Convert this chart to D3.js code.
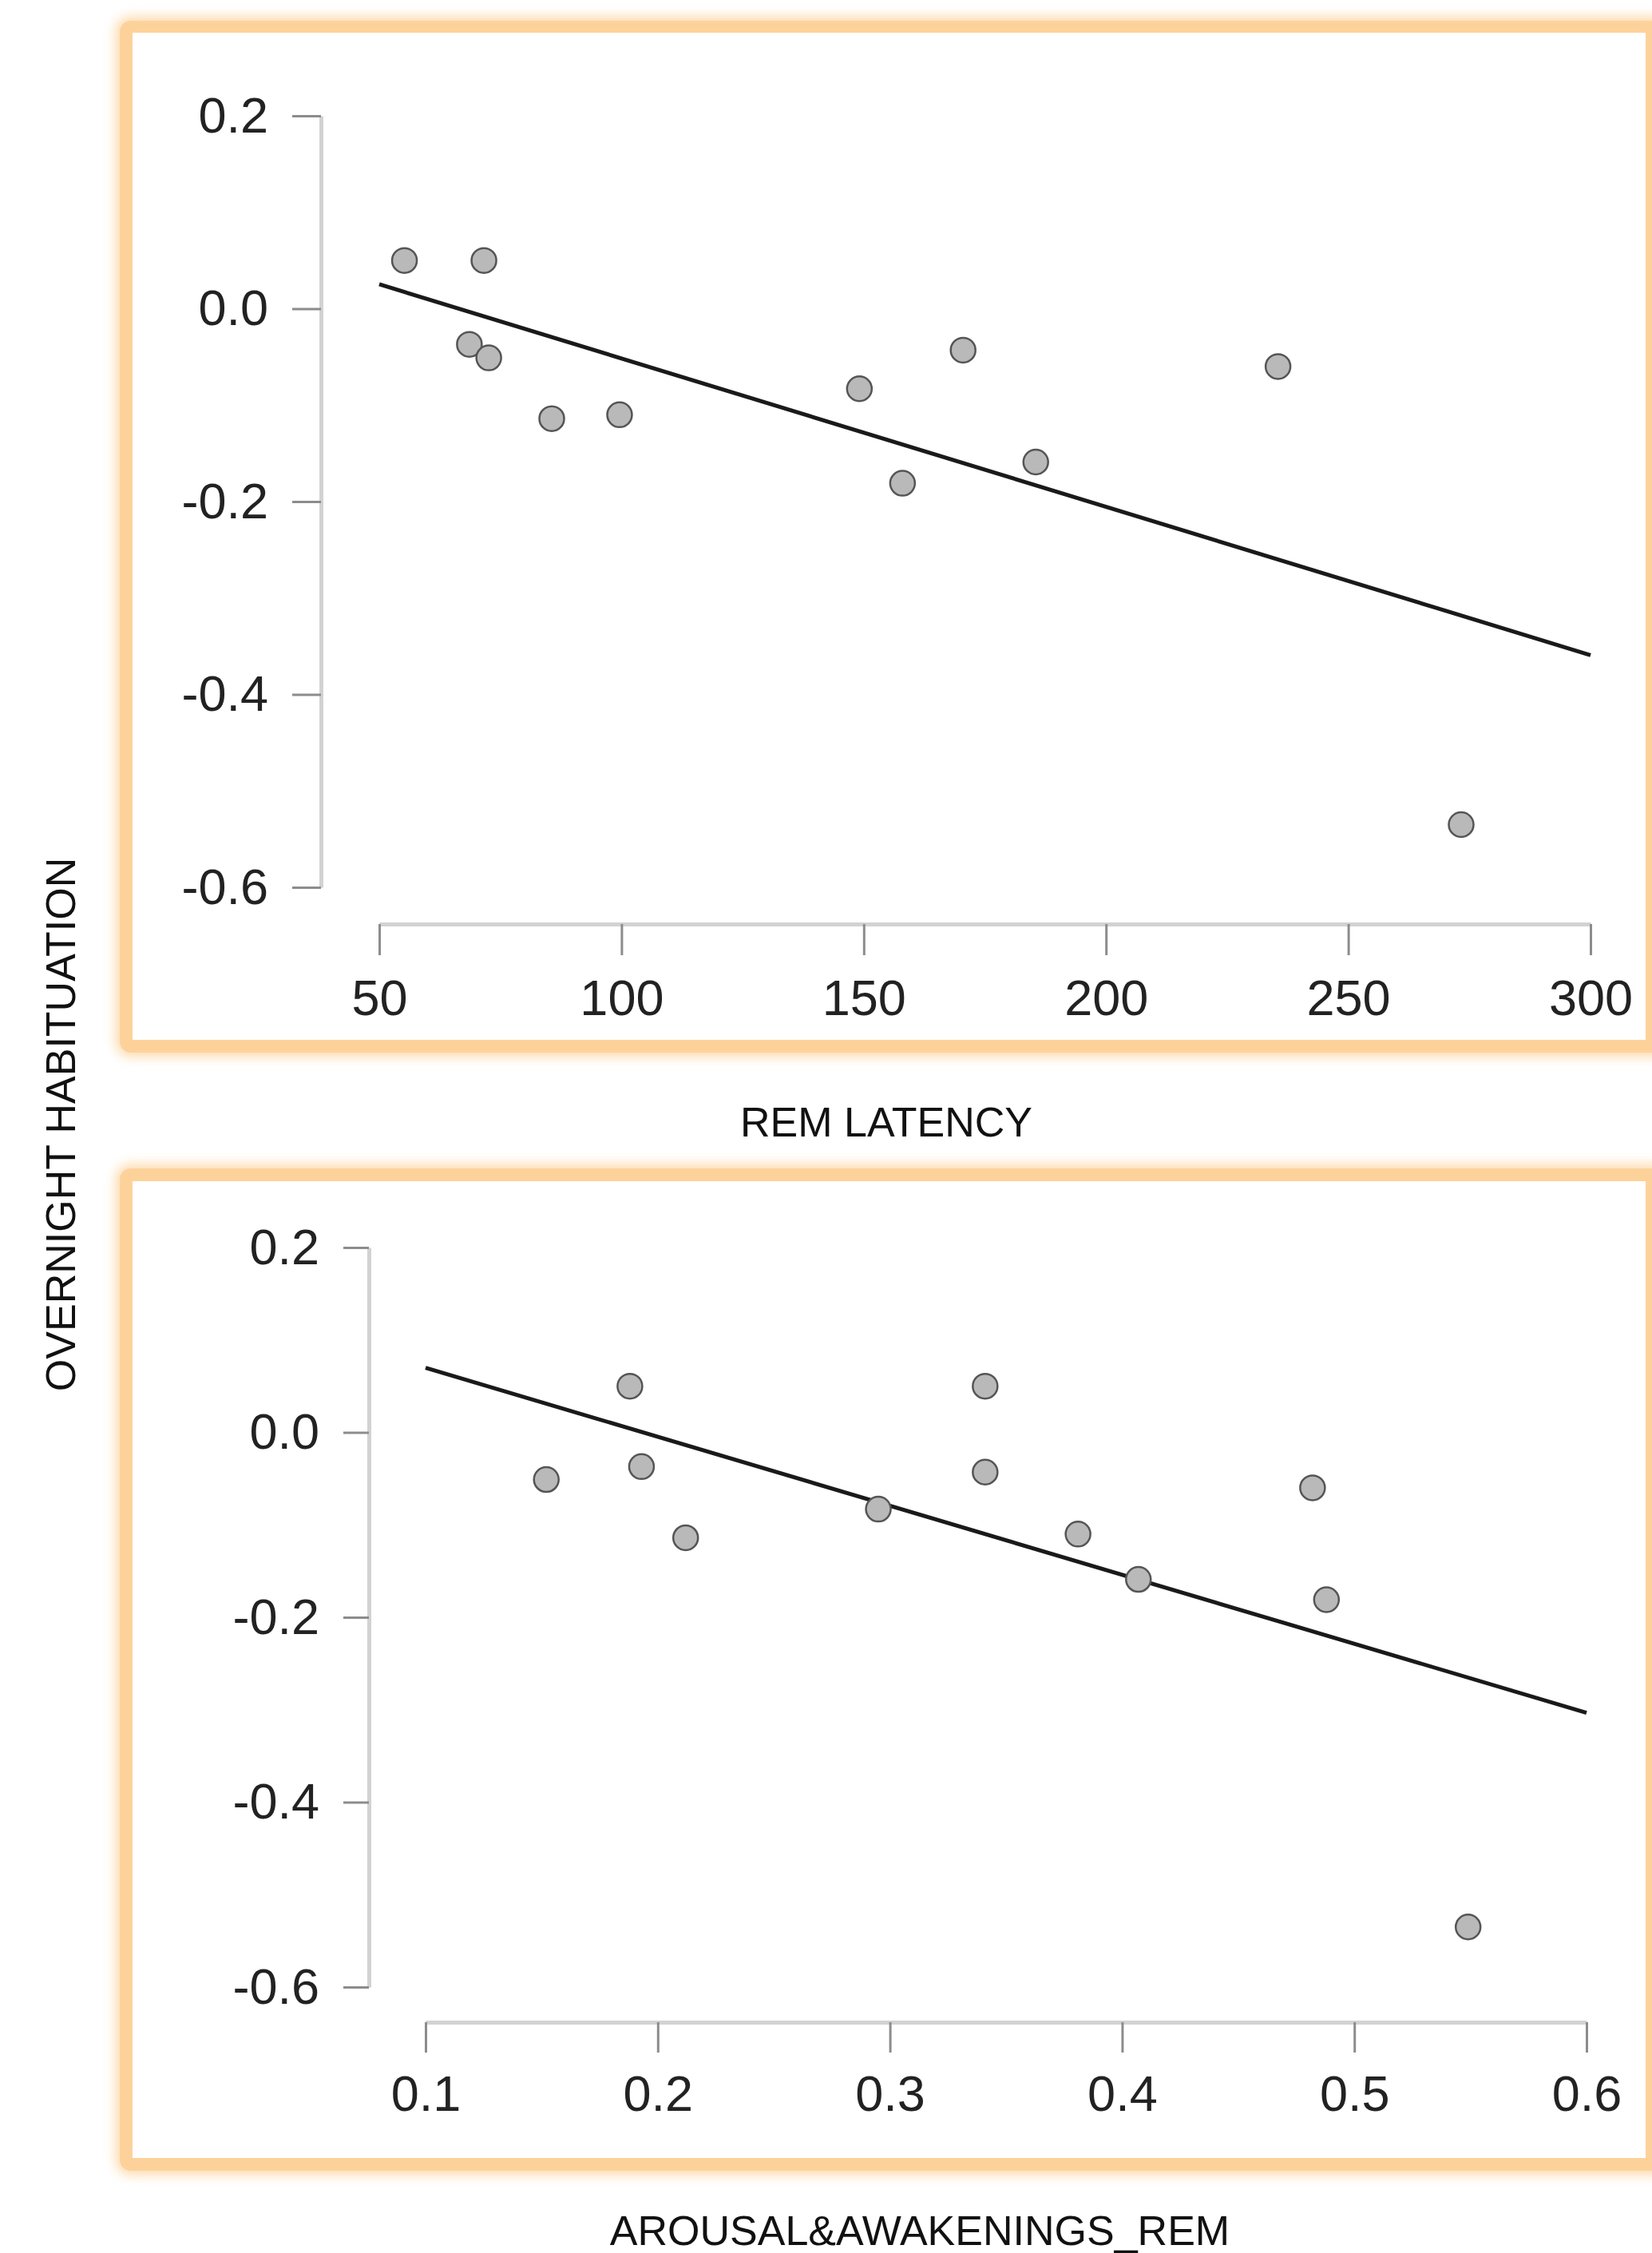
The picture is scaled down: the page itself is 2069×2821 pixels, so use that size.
<!DOCTYPE html>
<html>
<head>
<meta charset="utf-8">
<script src="https://cdn.jsdelivr.net/npm/d3@7"></script>
<style>
body { margin: 0; background: #fff; }
text { font-family: "Liberation Sans", Arial, Helvetica, sans-serif; }
</style>
</head>
<body>
<div id="chart"></div>
<script>
/* ------------------------------------------------------------------
 OVERNIGHT HABITUATION vs REM LATENCY / AROUSAL&AWAKENINGS_REM
 -------------------------------------------------------------------- */

var w = 2069,
	h = 2821;

// one value per subject, same order in every array
var habituation = [0.050, 0.050, -0.037, -0.051, -0.114, -0.110, -0.083, -0.181, -0.043, -0.159, -0.060, -0.535];
var remLatency  = [55.2, 71.6, 68.6, 72.6, 85.6, 99.6, 149.1, 158.0, 170.5, 185.5, 235.5, 273.3];
var arousalRem  = [0.188, 0.341, 0.193, 0.152, 0.212, 0.381, 0.295, 0.488, 0.341, 0.407, 0.482, 0.549];

var yTicks = [0.2, 0.0, -0.2, -0.4, -0.6];
var remTicks = [50, 100, 150, 200, 250, 300];
var arousalTicks = [0.1, 0.2, 0.3, 0.4, 0.5, 0.6];

var svg = d3.select("#chart")
	.append("svg")
	.attr("width", w)
	.attr("height", h);

svg.append("rect")
	.attr("width", w)
	.attr("height", h)
	.attr("fill", "#fff");

var defs = svg.append("defs");
defs.append("filter")
	.attr("id", "glow")
	.attr("x", "-5%").attr("y", "-5%")
	.attr("width", "110%").attr("height", "110%")
	.append("feGaussianBlur")
	.attr("stdDeviation", 7);

// least squares fit
function fit(xs, ys) {
	var mx = d3.mean(xs), my = d3.mean(ys);
	var sxy = d3.sum(xs, function(d, i){ return (d - mx) * (ys[i] - my); });
	var sxx = d3.sum(xs, function(d){ return (d - mx) * (d - mx); });
	var b = sxy / sxx;
	return function(x){ return my + b * (x - mx); };
}

function panel(p) {
	var g = svg.append("g");

	// orange frame with soft edge
	g.append("rect")
		.attr("x", p.outer[0] - 6).attr("y", p.outer[1] - 6)
		.attr("width", p.outer[2] - p.outer[0] + 12)
		.attr("height", p.outer[3] - p.outer[1] + 12)
		.attr("rx", 20)
		.attr("fill", "#fdd29a")
		.attr("opacity", 0.75)
		.attr("filter", "url(#glow)");
	g.append("rect")
		.attr("x", p.outer[0]).attr("y", p.outer[1])
		.attr("width", p.outer[2] - p.outer[0])
		.attr("height", p.outer[3] - p.outer[1])
		.attr("rx", 14)
		.attr("fill", "#fdd29a");
	g.append("rect")
		.attr("x", p.inner[0]).attr("y", p.inner[1])
		.attr("width", p.inner[2] - p.inner[0])
		.attr("height", p.inner[3] - p.inner[1])
		.attr("fill", "#fff");

	var x = d3.scaleLinear().domain(p.xDomain).range(p.xRange);
	var y = d3.scaleLinear().domain([-0.6, 0.2]).range(p.yRange);

	var yAxis = g.append("g")
		.attr("transform", "translate(" + p.yAxisX + ",0)")
		.call(d3.axisLeft(y)
			.tickValues(yTicks)
			.tickSize(p.yTick)
			.tickSizeOuter(0)
			.tickPadding(30)
			.tickFormat(function(d){ return d.toFixed(1); }));

	var xAxis = g.append("g")
		.attr("transform", "translate(0," + p.xAxisY + ")")
		.call(d3.axisBottom(x)
			.tickValues(p.xTicks)
			.tickSize(p.xTick)
			.tickSizeOuter(0)
			.tickPadding(p.xPad)
			.tickFormat(p.xFormat));

	[yAxis, xAxis].forEach(function(a){
		a.select(".domain")
			.attr("stroke", "#d2d2d2")
			.attr("stroke-width", 5);
		a.selectAll(".tick line")
			.attr("stroke", "#8c8c8c")
			.attr("stroke-width", 3);
		a.selectAll(".tick text")
			.attr("fill", "#222")
			.style("font-size", "63px");
	});

	// regression line
	var f = fit(p.xs, habituation);
	g.append("line")
		.attr("x1", x(p.xDomain[0])).attr("y1", y(f(p.xDomain[0])))
		.attr("x2", x(p.xDomain[1])).attr("y2", y(f(p.xDomain[1])))
		.attr("stroke", "#1a1a1a")
		.attr("stroke-width", 5);

	g.selectAll("circle.pt")
		.data(p.xs)
		.enter()
		.append("circle")
		.classed("pt", true)
		.attr("cx", function(d){ return x(d); })
		.attr("cy", function(d, i){ return y(habituation[i]); })
		.attr("r", 15.5)
		.attr("fill", "#b9b9b9")
		.attr("stroke", "#555")
		.attr("stroke-width", 2.5);

	g.append("text")
		.attr("x", p.titleX)
		.attr("y", p.titleY)
		.attr("text-anchor", "middle")
		.attr("fill", "#111")
		.style("font-size", "52px")
		.text(p.title);
}

panel({
	outer: [150, 26, 2090, 1318],
	inner: [166, 41, 2061, 1302],
	xs: remLatency,
	xDomain: [50, 300],
	xRange: [475, 1992],
	yRange: [1111, 145],
	xTicks: remTicks,
	xFormat: function(d){ return d; },
	yAxisX: 402, yTick: 36,
	xAxisY: 1157, xTick: 39, xPad: 30,
	title: "REM LATENCY", titleX: 1110, titleY: 1423
});

panel({
	outer: [150, 1463, 2090, 2718],
	inner: [166, 1479, 2061, 2702],
	xs: arousalRem,
	xDomain: [0.1, 0.6],
	xRange: [533, 1987],
	yRange: [2488, 1562],
	xTicks: arousalTicks,
	xFormat: function(d){ return d.toFixed(1); },
	yAxisX: 462, yTick: 32,
	xAxisY: 2532, xTick: 38, xPad: 28,
	title: "AROUSAL&AWAKENINGS_REM", titleX: 1152, titleY: 2811
});

svg.append("text")
	.attr("transform", "translate(94,1408) rotate(-90)")
	.attr("text-anchor", "middle")
	.attr("fill", "#111")
	.style("font-size", "52px")
	.text("OVERNIGHT HABITUATION");
</script>
</body>
</html>
